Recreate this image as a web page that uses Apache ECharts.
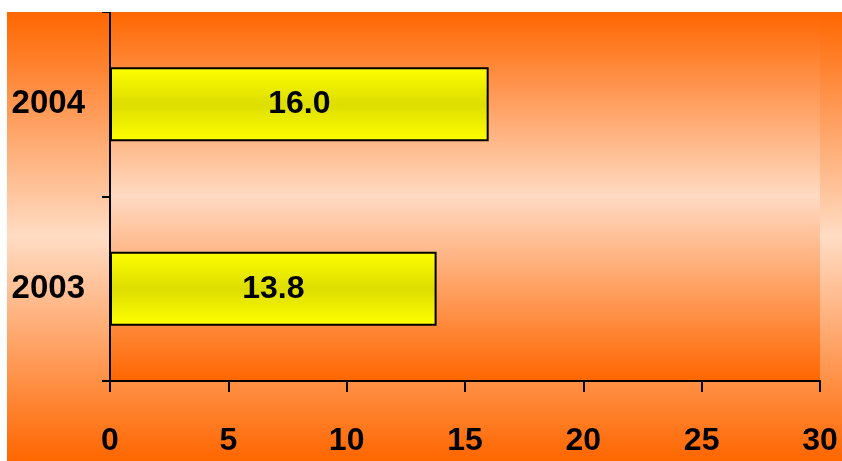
<!DOCTYPE html>
<html>
<head>
<meta charset="utf-8">
<script src="https://cdn.jsdelivr.net/npm/echarts@6/dist/echarts.min.js"></script>
<style>
html,body{margin:0;padding:0;background:#fff;}
#chart{position:absolute;left:7px;top:12px;width:835px;height:449px;}
</style>
</head>
<body>
<div id="chart"></div>
<script>
const years = ['2003', '2004'];
const values = [13.8, 16.0];
const xMin = 0, xMax = 30, xStep = 5;

const chart = echarts.init(document.getElementById('chart'));
const font = '"Liberation Sans", Arial, sans-serif';
chart.setOption({
  animation: false,
  backgroundColor: {
    type: 'linear', x: 0, y: 0, x2: 0, y2: 1,
    colorStops: [
      {offset: 0, color: '#FF6600'},
      {offset: 0.5, color: '#FFDCC4'},
      {offset: 1, color: '#FF6600'}
    ]
  },
  grid: {
    left: 103, right: 22, top: 0, bottom: 80,
    show: true, borderWidth: 0,
    backgroundColor: {
      type: 'linear', x: 0, y: 0, x2: 0, y2: 1,
      colorStops: [
        {offset: 0, color: '#FF6600'},
        {offset: 0.5, color: '#FFDAC2'},
        {offset: 1, color: '#FF6600'}
      ]
    }
  },
  xAxis: {
    type: 'value', min: xMin, max: xMax, interval: xStep,
    axisLine: {show: true, lineStyle: {color: '#000', width: 2}},
    axisTick: {show: true, length: 11, lineStyle: {color: '#000', width: 2}},
    splitLine: {show: false},
    axisLabel: {color: '#000', fontSize: 32, fontWeight: 'bold', fontFamily: font, margin: 44}
  },
  yAxis: {
    type: 'category', data: years,
    axisLine: {show: true, lineStyle: {color: '#000', width: 2}},
    axisTick: {show: true, length: 8, lineStyle: {color: '#000', width: 2}},
    axisLabel: {color: '#000', fontSize: 33, fontWeight: 'bold', fontFamily: font, margin: 25}
  },
  series: [{
    type: 'bar',
    data: values,
    barWidth: '40%',
    itemStyle: {
      borderColor: '#000', borderWidth: 2,
      color: {
        type: 'linear', x: 0, y: 0, x2: 0, y2: 1,
        colorStops: [
          {offset: 0, color: '#FFFF00'},
          {offset: 0.5, color: '#DDDD00'},
          {offset: 1, color: '#FFFF00'}
        ]
      }
    },
    label: {
      show: true, position: 'inside', color: '#000',
      fontSize: 32, fontWeight: 'bold', fontFamily: font,
      formatter: p => p.value.toFixed(1)
    }
  }]
});
</script>
</body>
</html>
